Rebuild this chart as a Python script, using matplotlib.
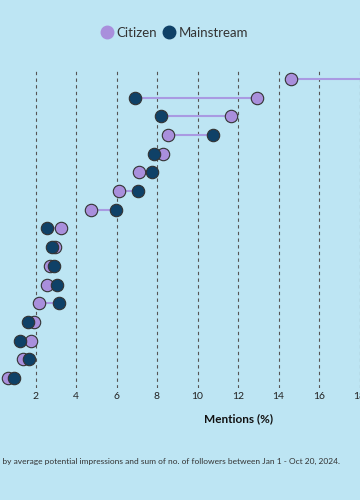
import numpy as np
import matplotlib.pyplot as plt
from matplotlib.lines import Line2D

# rows top to bottom (labels sit outside the visible crop)
rows = np.arange(17)
citizen = [14.63, 12.92, 11.67, 8.53, 8.31, 7.13, 6.12, 4.72, 3.24, 2.95,
           2.72, 2.55, 2.17, 1.94, 1.78, 1.40, 0.63]
mainstream = [21.5, 6.91, 8.21, 10.75, 7.85, 7.75, 7.08, 5.99, 2.57, 2.80,
              2.89, 3.06, 3.18, 1.61, 1.25, 1.70, 0.94]
xticks = [0, 2, 4, 6, 8, 10, 12, 14, 16, 18, 20, 22, 24]
xticklabels = ['', '2', '4', '6', '8', '10', '12', '14', '16', '18', '', '', '']

bg = '#bde5f3'
c_cit = '#a98fdc'
c_main = '#0f4167'
c_line = '#a99ae2'

plt.rcParams['font.family'] = ['Lato', 'DejaVu Sans']

fig = plt.figure(figsize=(3.6, 5.0), dpi=100, facecolor=bg)
# axes runs past the figure edges: the reference is a crop of a wider chart
ax = fig.add_axes([-5 / 360, 1 - 388 / 500, 486 / 360, (388 - 69) / 500])
ax.set_facecolor(bg)

for y, c, m in zip(rows, citizen, mainstream):
    ax.plot([c, m], [y, y], color=c_line, lw=1.5, zorder=2, solid_capstyle='butt')
ax.scatter(citizen, rows, s=80, color=c_cit, edgecolor='#333333', linewidth=0.8, zorder=3)
ax.scatter(mainstream, rows, s=80, color=c_main, edgecolor='#333333', linewidth=0.8, zorder=4)

ax.set_xlim(0, 24)
ax.set_ylim(16.53, -0.53)
ax.set_xticks(xticks)
ax.set_xticklabels(xticklabels)
ax.set_yticks([])
ax.grid(axis='x', color='#555555', lw=0.8, linestyle=(0, (3, 3)))
ax.tick_params(axis='x', length=0, pad=3, labelsize=7.5, labelcolor='#222222')
for s in ax.spines.values():
    s.set_visible(False)
ax.set_xlabel('Mentions (%)', fontsize=8.5, fontweight='bold', color='#111111', labelpad=9)

handles = [
    Line2D([], [], marker='o', ls='', markersize=9, color=c_cit, label='Citizen'),
    Line2D([], [], marker='o', ls='', markersize=9, color=c_main, label='Mainstream'),
]
fig.legend(handles=handles, loc='center', bbox_to_anchor=(0.482, 1 - 33 / 500), ncol=2,
           frameon=False, fontsize=9.5, handletextpad=0.15, columnspacing=0.3,
           labelcolor='#333333', handlelength=1.2)

fig.text(340 / 360, 1 - 461 / 500,
         'Note: Ranked by average potential impressions and sum of no. of followers between Jan 1 - Oct 20, 2024.',
         ha='right', va='center', fontsize=6.0, color='#333333')

fig.savefig('out.png', dpi=100, facecolor=bg)
